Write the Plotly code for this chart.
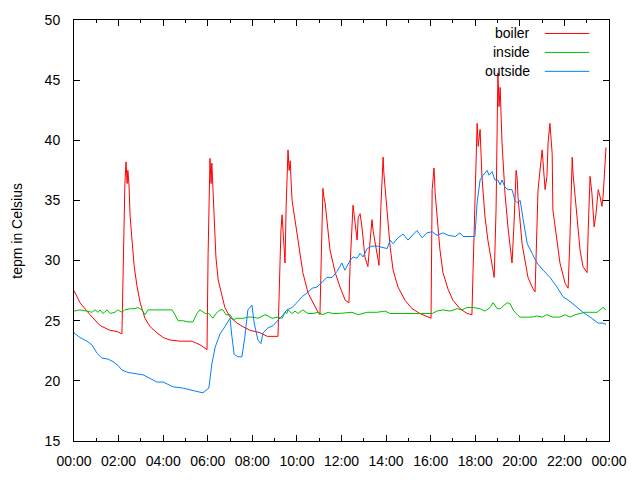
import pandas as pd
import plotly.graph_objects as go

# ── Data ──────────────────────────────────────────────────────────────────────

boiler_time = [
    "00:00", "00:16", "00:43", "01:10", "01:37", "01:56", "02:09", "02:12", "02:15", "02:17",
    "02:20", "02:23", "02:25", "02:28", "02:31", "02:36", "02:42", "02:50", "02:58", "03:11",
    "03:25", "03:43", "04:00", "04:18", "04:45", "05:18", "05:39", "05:58", "06:01", "06:06",
    "06:09", "06:11", "06:14", "06:17", "06:22", "06:28", "06:38", "06:46", "07:00", "07:19",
    "07:35", "07:54", "08:21", "08:40", "09:09", "09:12", "09:14", "09:17", "09:20", "09:23",
    "09:25", "09:28", "09:31", "09:33", "09:36", "09:39", "09:42", "09:44", "09:47", "10:03",
    "10:16", "10:30", "10:43", "10:57", "11:02", "11:05", "11:08", "11:10", "11:13", "11:16",
    "11:29", "11:43", "11:56", "12:10", "12:20", "12:23", "12:31", "12:36", "12:42", "12:45",
    "12:50", "12:55", "13:03", "13:11", "13:17", "13:22", "13:25", "13:36", "13:41", "13:46",
    "13:52", "13:54", "14:03", "14:11", "14:19", "14:32", "14:51", "15:10", "15:31", "15:53",
    "16:01", "16:04", "16:09", "16:12", "16:17", "16:25", "16:33", "16:47", "17:00", "17:19",
    "17:38", "17:51", "17:54", "18:05", "18:08", "18:13", "18:18", "18:26", "18:34", "18:45",
    "18:51", "18:56", "19:01", "19:04", "19:07", "19:12", "19:20", "19:28", "19:36", "19:39",
    "19:44", "19:50", "19:53", "19:55", "20:06", "20:14", "20:22", "20:33", "20:41", "20:44",
    "20:49", "21:00", "21:03", "21:08", "21:13", "21:16", "21:21", "21:27", "21:29", "21:40",
    "21:48", "22:02", "22:10", "22:15", "22:21", "22:23", "22:34", "22:42", "22:50", "23:01",
    "23:04", "23:09", "23:14", "23:17", "23:20", "23:25", "23:31", "23:36", "23:41", "23:44",
    "23:49", "23:52",
]
boiler_temp = [
    27.5, 26.5, 25.5, 24.6, 24.2, 24.1, 23.9, 29.2, 32.8, 36.4,
    38.2, 36.4, 37.5, 36.3, 33.7, 31.5, 29.5, 27.8, 26.5, 25.2,
    24.5, 24.0, 23.6, 23.4, 23.3, 23.3, 23.0, 22.6, 30.6, 38.5,
    36.4, 38.1, 36.1, 32.8, 30.3, 28.4, 27.0, 26.1, 25.3, 24.8,
    24.5, 24.2, 24.0, 23.7, 23.7, 27.4, 30.0, 32.5, 33.8, 32.0,
    31.2, 29.8, 34.5, 36.5, 39.2, 37.5, 38.3, 36.8, 35.0, 31.7,
    29.0, 27.3, 26.5, 25.7, 25.5, 30.0, 34.0, 36.0, 35.2, 34.8,
    30.9, 29.0, 27.8, 26.7, 26.5, 29.5, 34.6, 33.1, 31.7, 33.6,
    33.9, 32.8, 30.3, 29.5, 31.7, 33.4, 32.5, 30.6, 29.6, 34.5,
    38.6, 37.3, 33.9, 31.1, 29.2, 27.8, 26.7, 26.0, 25.6, 25.3,
    25.2, 35.9, 37.7, 35.6, 33.7, 30.9, 29.0, 27.6, 26.7, 26.0,
    25.6, 25.5, 29.0, 41.4, 39.5, 40.9, 37.0, 33.7, 31.7, 29.8,
    28.6, 34.2, 45.6, 42.8, 44.4, 39.8, 35.6, 32.8, 30.6, 29.8,
    32.8, 37.5, 36.8, 35.3, 31.4, 29.8, 28.6, 27.8, 27.4, 30.6,
    35.9, 39.2, 38.1, 35.9, 37.0, 39.8, 41.4, 38.9, 34.2, 31.4,
    29.8, 28.1, 27.7, 32.0, 38.6, 37.3, 33.7, 30.9, 29.5, 29.0,
    32.5, 37.0, 35.6, 34.2, 32.8, 33.9, 35.9, 35.3, 34.5, 35.3,
    38.4, 39.4,
]

inside_time = [
    "00:00", "00:16", "00:35", "00:48", "00:57", "01:05", "01:10", "01:18", "01:29", "01:37",
    "01:50", "01:58", "02:09", "02:17", "02:31", "02:44", "02:52", "03:03", "03:11", "03:19",
    "03:43", "04:24", "04:32", "04:40", "04:53", "05:07", "05:20", "05:31", "05:39", "05:53",
    "06:03", "06:14", "06:22", "06:33", "06:41", "06:49", "07:00", "07:08", "07:21", "07:35",
    "07:48", "08:02", "08:15", "08:34", "08:42", "08:53", "09:09", "09:20", "09:28", "09:33",
    "09:36", "09:47", "09:55", "10:03", "10:16", "10:30", "10:43", "10:57", "11:10", "11:24",
    "11:37", "11:51", "12:28", "12:45", "13:09", "13:36", "13:57", "14:11", "14:56", "15:40",
    "16:04", "16:17", "16:33", "16:52", "17:11", "17:24", "17:38", "17:54", "18:13", "18:26",
    "18:40", "18:48", "18:59", "19:07", "19:26", "19:34", "19:42", "19:53", "20:01", "20:20",
    "20:33", "20:46", "21:00", "21:13", "21:29", "21:48", "22:02", "22:15", "22:29", "22:42",
    "22:55", "23:09", "23:28", "23:36", "23:44", "23:52",
]
inside_temp = [
    25.8, 25.9, 25.8, 25.7, 25.9, 25.7, 25.9, 25.6, 25.9, 25.6,
    25.7, 25.9, 25.7, 25.9, 26.0, 26.0, 26.1, 25.9, 25.5, 25.9,
    25.9, 25.9, 25.5, 25.0, 25.0, 24.9, 24.9, 25.6, 25.9, 25.6,
    25.6, 25.2, 25.6, 25.9, 25.9, 25.5, 25.5, 25.1, 25.2, 25.2,
    25.3, 25.3, 25.2, 25.5, 25.4, 25.2, 25.3, 25.2, 25.7, 25.6,
    25.9, 25.6, 25.8, 25.6, 25.9, 25.6, 25.6, 25.7, 25.5, 25.7,
    25.6, 25.6, 25.7, 25.5, 25.7, 25.7, 25.8, 25.6, 25.6, 25.6,
    25.6, 25.8, 25.9, 25.8, 26.0, 25.9, 26.1, 26.1, 26.0, 25.8,
    26.1, 26.5, 26.0, 26.0, 26.5, 26.4, 25.9, 25.5, 25.3, 25.3,
    25.3, 25.4, 25.3, 25.5, 25.3, 25.3, 25.5, 25.3, 25.5, 25.6,
    25.7, 25.7, 25.7, 25.9, 26.1, 25.9,
]

outside_time = [
    "00:00", "00:16", "00:35", "00:48", "01:02", "01:15", "01:32", "01:45", "01:58", "02:09",
    "02:25", "02:50", "03:06", "03:25", "03:43", "04:00", "04:18", "04:27", "04:53", "05:20",
    "05:47", "06:03", "06:11", "06:20", "06:33", "06:46", "07:00", "07:05", "07:11", "07:21",
    "07:32", "07:40", "07:48", "07:59", "08:05", "08:15", "08:23", "08:29", "08:42", "08:56",
    "09:09", "09:23", "09:33", "09:47", "10:00", "10:14", "10:27", "10:41", "10:54", "11:08",
    "11:21", "11:35", "11:48", "12:01", "12:09", "12:23", "12:31", "12:42", "12:50", "12:58",
    "13:09", "13:22", "13:36", "13:49", "14:03", "14:11", "14:19", "14:32", "14:46", "14:59",
    "15:10", "15:23", "15:37", "15:50", "16:04", "16:17", "16:33", "16:47", "17:06", "17:19",
    "17:27", "17:46", "17:59", "18:05", "18:13", "18:21", "18:32", "18:37", "18:45", "18:53",
    "19:01", "19:07", "19:12", "19:20", "19:28", "19:39", "19:47", "19:53", "20:01", "20:09",
    "20:20", "20:33", "20:46", "21:03", "21:21", "21:40", "21:56", "22:15", "22:34", "22:50",
    "23:09", "23:22", "23:31", "23:44", "23:52",
]
outside_temp = [
    24.0, 23.6, 23.3, 23.0, 22.3, 21.9, 21.8, 21.6, 21.3, 20.9,
    20.7, 20.6, 20.5, 20.2, 19.9, 19.9, 19.6, 19.5, 19.4, 19.2,
    19.0, 19.4, 21.4, 22.8, 23.9, 24.5, 25.2, 23.7, 22.2, 22.0,
    22.0, 23.7, 25.9, 26.3, 24.8, 23.4, 23.1, 24.0, 24.4, 24.6,
    25.0, 25.5, 25.9, 26.1, 26.5, 27.0, 27.3, 27.7, 27.8, 28.2,
    28.6, 28.6, 29.1, 29.8, 29.2, 30.0, 30.3, 30.2, 30.6, 30.3,
    31.0, 31.2, 31.2, 31.1, 31.0, 31.7, 31.4, 31.9, 32.2, 31.7,
    32.1, 32.5, 31.9, 32.3, 32.4, 32.1, 32.3, 32.1, 32.0, 32.3,
    32.0, 32.0, 32.0, 34.8, 36.7, 37.1, 37.5, 37.1, 37.4, 36.7,
    36.7, 36.3, 36.7, 36.1, 35.9, 35.9, 35.0, 34.8, 35.0, 33.4,
    31.4, 30.6, 29.8, 29.2, 28.6, 27.8, 27.0, 26.6, 26.1, 25.7,
    25.3, 25.0, 24.8, 24.8, 24.7,
]

y_ticks = [15, 20, 25, 30, 35, 40, 45, 50]

DAY = "2024-01-01 "
FONT = "Liberation Sans, Arial, sans-serif"


def to_dt(times):
    return pd.to_datetime([DAY + t for t in times])


series = [
    ("boiler", boiler_time, boiler_temp, "#ff0000"),
    ("inside", inside_time, inside_temp, "#00c000"),
    ("outside", outside_time, outside_temp, "#0080ff"),
]

fig = go.Figure()
for name, t, v, col in series:
    fig.add_trace(go.Scatter(x=to_dt(t), y=v, name=name, mode="lines",
                             line=dict(color=col, width=1), showlegend=False))

# gnuplot-style key: label on the left, line sample on the right
key_y = [0.968, 0.923, 0.878]
for (name, _, _, col), ky in zip(series, key_y):
    fig.add_annotation(x=0.856, y=ky, xref="paper", yref="paper", text=name,
                       showarrow=False, xanchor="right", yanchor="middle",
                       font=dict(size=14, color="black", family=FONT))
    fig.add_shape(type="line", xref="paper", yref="paper", x0=0.880, x1=0.963,
                  y0=ky, y1=ky, line=dict(color=col, width=1))

fig.add_annotation(x=-0.108, y=0.5, xref="paper", yref="paper", text="tepm in Celsius",
                   textangle=-90, showarrow=False, xanchor="center", yanchor="middle",
                   font=dict(size=14, color="black", family=FONT))

fig.update_xaxes(
    type="date", range=[DAY + "00:00", "2024-01-02 00:00"],
    tickformat="%H:%M", dtick=7200000, tick0=DAY + "00:00",
    ticks="inside", ticklen=6, tickcolor="black", showline=True, linecolor="black",
    linewidth=1, mirror="ticks", showgrid=False, zeroline=False, automargin=False,
    ticklabelstandoff=7,
    minor=dict(ticks="inside", ticklen=3, dtick=3600000, tickcolor="black", showgrid=False),
    tickfont=dict(size=14, color="black", family=FONT),
)
fig.update_yaxes(
    range=[15, 50], tickvals=y_ticks,
    ticks="inside", ticklen=6, tickcolor="black", showline=True, linecolor="black",
    linewidth=1, mirror="ticks", showgrid=False, zeroline=False, automargin=False,
    ticklabelstandoff=10,
    tickfont=dict(size=14, color="black", family=FONT),
)
# the page body adds an 8px offset, so the figure is a little smaller than the window
fig.update_layout(
    width=632, height=472, paper_bgcolor="white", plot_bgcolor="white",
    margin=dict(l=66, r=31, t=12, b=39), showlegend=False,
    font=dict(family=FONT, color="black"),
)
fig.write_html("out.html")
